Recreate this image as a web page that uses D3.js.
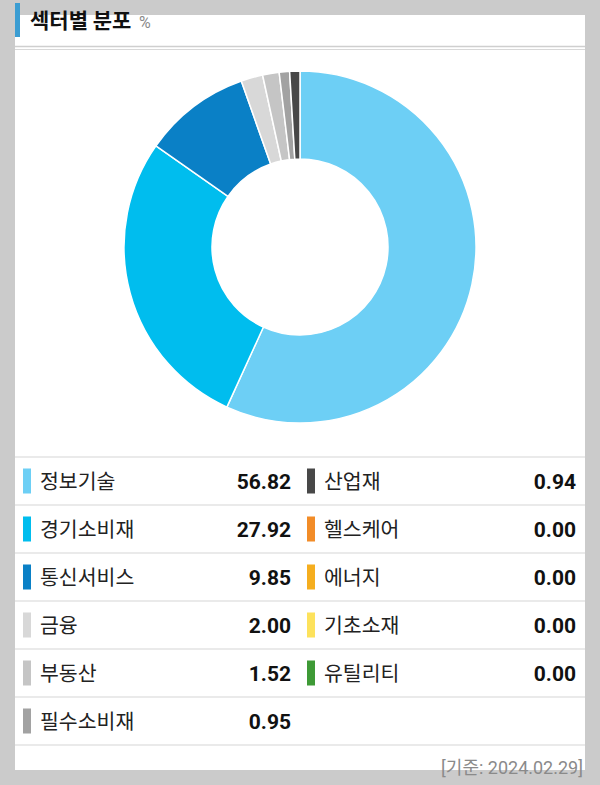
<!DOCTYPE html>
<html><head><meta charset="utf-8">
<script src="https://cdn.jsdelivr.net/npm/d3@7"></script>
<style>
html,body{margin:0;padding:0;background:#cbcbcb;}
svg{display:block;}
</style></head>
<body>
<svg id="chart" width="600" height="785"></svg>
<script>
const sectors = ["정보기술","경기소비재","통신서비스","금융","부동산","필수소비재","산업재","헬스케어","에너지","기초소재","유틸리티"];
const values = [56.82, 27.92, 9.85, 2.00, 1.52, 0.95, 0.94, 0.00, 0.00, 0.00, 0.00];
const colors = ["#6dcff5","#00bdee","#0a80c6","#d8d8d8","#c5c5c5","#a2a2a2","#484848","#f28c28","#f5ae1f","#fde25c","#3e9a36"];
const titleText = "섹터별 분포";
const unitText = "%";
const dateText = "[기준: 2024.02.29]";

const svg = d3.select("#chart");
const W = 600, H = 785;
const panelX = 15, panelW = 570, panelY = 15, panelH = 755;

svg.append("rect").attr("x",0).attr("y",0).attr("width",W).attr("height",H).attr("fill","#cbcbcb");
svg.append("rect").attr("x",panelX).attr("y",panelY).attr("width",panelW).attr("height",panelH).attr("fill","#ffffff");

// title
svg.append("rect").attr("x",15).attr("y",3).attr("width",5).attr("height",34).attr("fill","#3b9dd2");
svg.append("text").attr("x",30).attr("y",28)
  .attr("font-family","'Noto Sans CJK KR', sans-serif").attr("font-weight","bold")
  .attr("font-size",21).attr("fill","#111").text(titleText);
svg.append("text").attr("x",139).attr("y",28)
  .attr("font-family","Roboto, sans-serif").attr("font-size",16).attr("fill","#8a8a8a").text(unitText);

// double line
svg.append("line").attr("x1",panelX).attr("x2",panelX+panelW).attr("y1",46.5).attr("y2",46.5).attr("stroke","#cfcfcf").attr("stroke-width",1.5);
svg.append("line").attr("x1",panelX).attr("x2",panelX+panelW).attr("y1",49.5).attr("y2",49.5).attr("stroke","#d8d8d8").attr("stroke-width",1);

// donut
const data = sectors.map((s,i)=>({name:s,value:values[i],color:colors[i]}));
const pie = d3.pie().value(d=>d.value).sort(null);
const arc = d3.arc().innerRadius(88).outerRadius(176);
const g = svg.append("g").attr("transform","translate(300,247)");
g.selectAll("path").data(pie(data.filter(d=>d.value>0))).join("path")
  .attr("d",arc).attr("fill",d=>d.data.color)
  .attr("stroke","#ffffff").attr("stroke-width",1.5).attr("stroke-linejoin","round");

// legend
const rowTop = 457, rowH = 48, rows = 6;
const y = d3.scaleLinear().domain([0,rows]).range([rowTop,rowTop+rows*rowH]);
for(let r=0;r<=rows;r++){
  svg.append("line").attr("x1",panelX).attr("x2",panelX+panelW)
    .attr("y1",y(r)).attr("y2",y(r)).attr("stroke","#e3e3e3").attr("stroke-width",1.5);
}
const cols = [{sx:23, lx:40, vx:291},{sx:307, lx:324, vx:576}];
data.forEach((d,i)=>{
  const c = cols[i<rows?0:1];
  const r = i<rows?i:i-rows;
  const cy = y(r)+rowH/2;
  svg.append("rect").attr("x",c.sx).attr("y",cy-12.5).attr("width",8).attr("height",25).attr("fill",d.color);
  svg.append("text").attr("x",c.lx).attr("y",cy+7.5)
    .attr("font-family","'Noto Sans CJK KR', sans-serif").attr("font-size",20.5).attr("fill","#222").text(d.name);
  svg.append("text").attr("x",c.vx).attr("y",cy+7.5).attr("text-anchor","end")
    .attr("font-family","Roboto, sans-serif").attr("font-weight","bold").attr("font-size",21).attr("fill","#111")
    .text(d.value.toFixed(2));
});

// date
svg.append("text").attr("x",583).attr("y",774).attr("text-anchor","end")
  .attr("font-family","Roboto, 'Noto Sans CJK KR', sans-serif").attr("font-size",18).attr("fill","#8a8a8a").text(dateText);
</script>
</body></html>
